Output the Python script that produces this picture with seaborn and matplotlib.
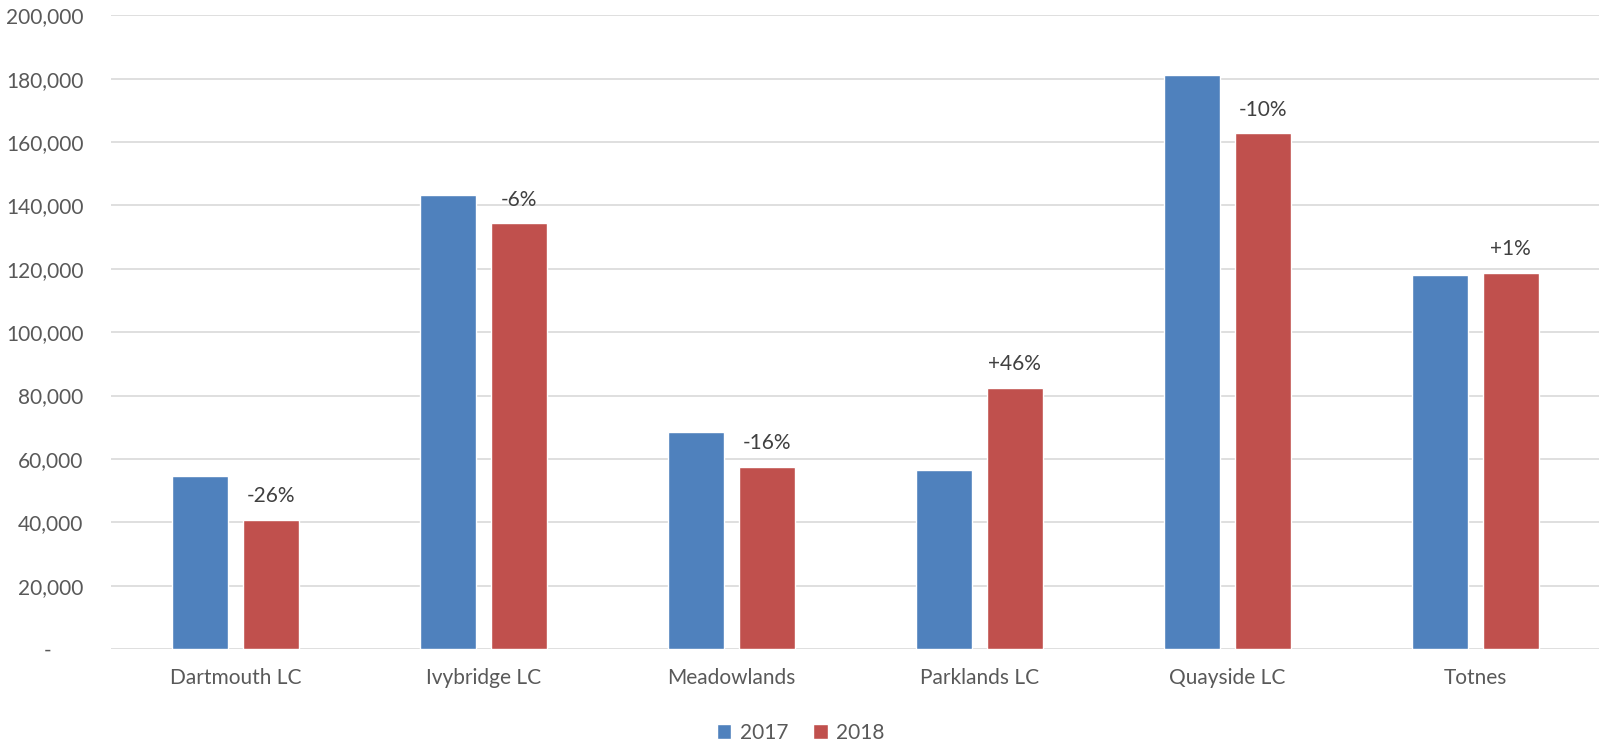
import matplotlib
matplotlib.use("Agg")
import matplotlib.pyplot as plt
import seaborn as sns
import pandas as pd
from matplotlib.patches import Patch
from matplotlib.ticker import FuncFormatter

# Visits per leisure centre, 2017 vs 2018
centres = ["Dartmouth LC", "Ivybridge LC", "Meadowlands", "Parklands LC", "Quayside LC", "Totnes"]
visits_2017 = [54700, 143300, 68600, 56400, 181300, 118000]
visits_2018 = [40600, 134300, 57600, 82400, 162700, 118800]
years = ["2017", "2018"]
colors = ["#4F81BD", "#C0504D"]

df = pd.DataFrame({
    "centre": centres * 2,
    "year": [years[0]] * len(centres) + [years[1]] * len(centres),
    "visits": visits_2017 + visits_2018,
})

sns.set_theme(style="white")
plt.rcParams["font.family"] = ["Lato", "DejaVu Sans"]

fig = plt.figure(figsize=(16.01, 7.46), dpi=100)
ax = fig.add_axes([0.0695, 0.130, 0.9295, 0.8495])

sns.barplot(data=df, x="centre", y="visits", hue="year", order=centres,
            hue_order=years, palette=colors, width=0.572, gap=0.211,
            saturation=1, errorbar=None, legend=False, ax=ax)

ax.set_ylim(0, 200000)
ax.set_xlim(-0.5, len(centres) - 0.5)
ax.set_yticks(range(0, 200001, 20000))
ax.yaxis.set_major_formatter(FuncFormatter(lambda v, p: "-      " if v == 0 else f"{int(v):,}"))
ax.grid(axis="y", color="#D9D9D9", linewidth=1.2)
ax.set_axisbelow(True)
for s in ax.spines.values():
    s.set_visible(False)
ax.tick_params(axis="both", length=0, labelsize=15, labelcolor="#595959")
ax.tick_params(axis="y", pad=20)
ax.tick_params(axis="x", pad=14)
ax.set_xlabel("")
ax.set_ylabel("")

# Year-on-year change above each 2018 bar
bars_2018 = ax.containers[1]
for bar, a, b in zip(bars_2018, visits_2017, visits_2018):
    pct = round((b - a) / a * 100)
    label = f"{pct:+d}%"
    ax.annotate(label, (bar.get_x() + bar.get_width() / 2, bar.get_height()),
                xytext=(0, 10), textcoords="offset points", ha="center", va="bottom",
                fontsize=15, color="#404040")

handles = [Patch(facecolor=c, label=y) for c, y in zip(colors, years)]
fig.legend(handles=handles, loc="center", bbox_to_anchor=(0.5, 0.0175), ncol=2,
           frameon=False, fontsize=15, handlelength=0.7, handleheight=0.7,
           handletextpad=0.4, columnspacing=1.2, labelcolor="#595959")

fig.savefig("out.png", dpi=100)
